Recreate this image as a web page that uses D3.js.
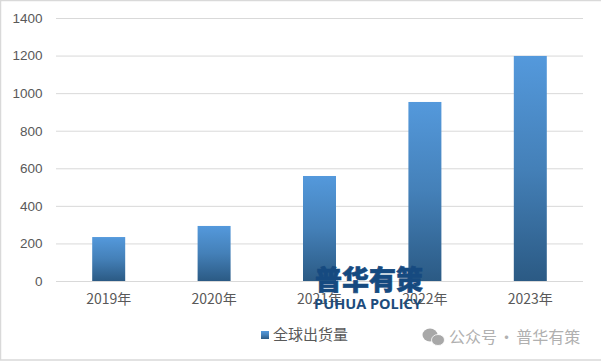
<!DOCTYPE html>
<html>
<head>
<meta charset="utf-8">
<script src="https://cdn.jsdelivr.net/npm/d3@7"></script>
<style>
    html, body { margin: 0; padding: 0; background: #fff; }
    svg { display: block; }
    text { font-family: "Noto Sans CJK SC", "Liberation Sans", sans-serif; }
</style>
</head>
<body>
<svg id="chart" width="601" height="361"></svg>
<script>
const categories = ["2019年", "2020年", "2021年", "2022年", "2023年"];
const shipments = [234, 293, 559, 953, 1198];
const yTicks = [0, 200, 400, 600, 800, 1000, 1200, 1400];
const seriesName = "全球出货量";

const svg = d3.select("#chart");

// frame of the pasted screenshot
svg.append("rect")
    .attr("x", 0.5).attr("y", 0.5)
    .attr("width", 640).attr("height", 359.5)
    .attr("fill", "none")
    .attr("stroke", "#d9d9d9")
    .attr("stroke-width", 1.5);

const x = d3.scaleBand().domain(categories).range([56, 583]).paddingInner(0.687).paddingOuter(0.3435);
const y = d3.scaleLinear().domain([0, 1400]).range([281, 18]);

// bar gradient, one per bar
const defs = svg.append("defs");
const grad = defs.append("linearGradient")
    .attr("id", "barFill")
    .attr("x1", 0).attr("y1", 0).attr("x2", 0).attr("y2", 1);
grad.append("stop").attr("offset", "0%").attr("stop-color", "#5499dc");
grad.append("stop").attr("offset", "50%").attr("stop-color", "#4480b8");
grad.append("stop").attr("offset", "100%").attr("stop-color", "#2b5a84");

// gridlines
svg.append("g")
    .selectAll("line")
    .data(yTicks)
    .enter()
    .append("line")
    .attr("x1", 56).attr("x2", 583)
    .attr("y1", d => y(d) + 0.5).attr("y2", d => y(d) + 0.5)
    .attr("stroke", "#d9d9d9")
    .attr("stroke-width", 1);

// bars
svg.append("g")
    .selectAll("rect")
    .data(shipments)
    .enter()
    .append("rect")
    .attr("x", (d, i) => x(categories[i]))
    .attr("y", d => y(d))
    .attr("width", x.bandwidth())
    .attr("height", d => y(0) - y(d))
    .attr("fill", "url(#barFill)");

// y axis
const yAxis = d3.axisLeft(y).tickValues(yTicks).tickSize(0).tickPadding(0).tickFormat(d3.format("d"));
const yG = svg.append("g").attr("transform", "translate(42.5,0)").call(yAxis);
yG.select(".domain").remove();
yG.selectAll("text")
    .attr("fill", "#595959")
    .attr("font-size", 13.5)
    .style("font-family", '"Liberation Sans", sans-serif');

// x axis
const xAxis = d3.axisBottom(x).tickSize(0).tickPadding(0);
const xG = svg.append("g").attr("transform", "translate(0,294)").call(xAxis);
xG.select(".domain").remove();
xG.selectAll("text")
    .attr("fill", "#595959")
    .attr("font-size", 14);

// legend
const legend = svg.append("g").attr("transform", "translate(261,331)");
legend.append("rect").attr("width", 8).attr("height", 8).attr("fill", "url(#barFill)");
legend.append("text")
    .attr("x", 12).attr("y", 9)
    .attr("fill", "#595959")
    .attr("font-size", 15)
    .text(seriesName);

// watermark logo
svg.append("text")
    .attr("x", 369).attr("y", 290)
    .attr("text-anchor", "middle")
    .attr("fill", "#164a80")
    .attr("font-size", 27)
    .attr("font-weight", 900)
    .attr("stroke", "#164a80")
    .attr("stroke-width", 0.6)
    .text("普华有策");
svg.append("text")
    .attr("x", 368).attr("y", 309)
    .attr("text-anchor", "middle")
    .attr("fill", "#1d4c7c")
    .attr("font-size", 14.5)
    .attr("font-weight", 700)
    .style("font-family", '"Open Sans", sans-serif')
    .text("PUHUA POLICY");

// wechat account mark
const wx = svg.append("g").attr("fill", "#a8a8a8");
wx.append("ellipse").attr("cx", 430).attr("cy", 335).attr("rx", 7.5).attr("ry", 6.5);
wx.append("ellipse").attr("cx", 438).attr("cy", 340).attr("rx", 6.5).attr("ry", 5.5).attr("stroke", "#fff").attr("stroke-width", 0.8);
svg.append("text")
    .attr("x", 449).attr("y", 343)
    .attr("fill", "#b0b0b0")
    .attr("font-size", 16)
    .attr("word-spacing", -2)
    .text("公众号 · 普华有策");
</script>
</body>
</html>
